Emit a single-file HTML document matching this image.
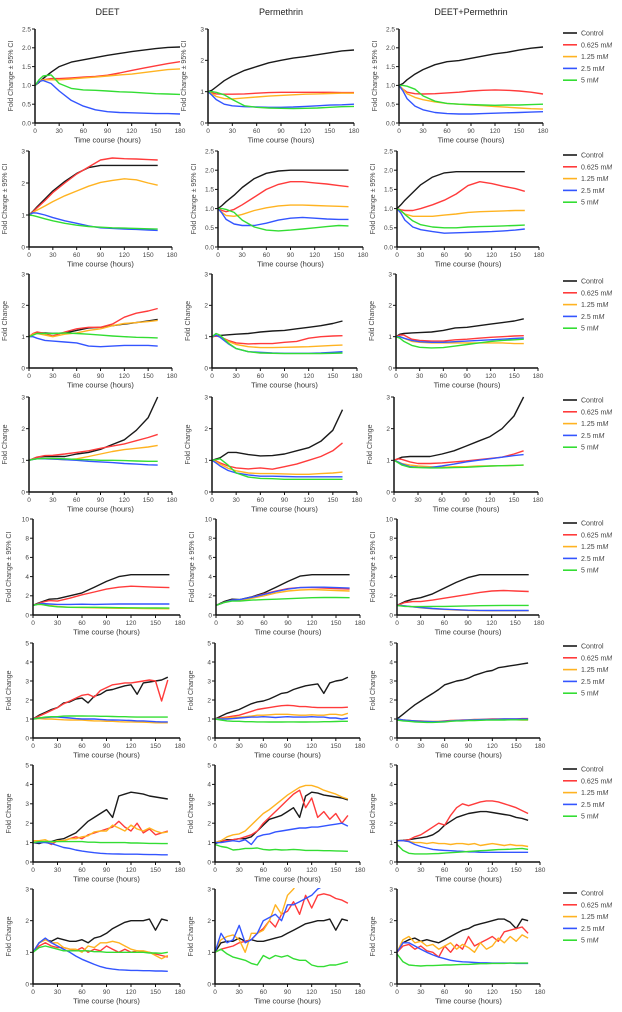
<!DOCTYPE html>
<html><head><meta charset="utf-8">
<style>
html,body{margin:0;padding:0;background:#fff;}
svg{display:block;font-family:"Liberation Sans",Arial,sans-serif;}
</style></head>
<body>
<svg id="fig" width="622" height="1012" viewBox="0 0 622 1012" xmlns="http://www.w3.org/2000/svg"></svg>
<script>
// ---------- shared data ----------
const seriesNames = ["Control","0.625 mM","1.25 mM","2.5 mM","5 mM"];
const columnTitles = ["DEET","Permethrin","DEET+Permethrin"];
const xTicks = [0,30,60,90,120,150,180];
const timesA = [0,5,10,20,30,45,60,75,90,105,120,135,150,165,180];
const timesB = [0,5,10,20,30,45,60,75,90,105,120,135,150,162];
const timesC = [0,5,10,20,30,45,60,75,90,105,120,135,150,167];
const timesD = [0,7.5,15,22.5,30,37.5,45,52.5,60,67.5,75,82.5,90,97.5,105,112.5,120,127.5,135,142.5,150,157.5,165];
const yMaxByRow = [[2.5,3,2.5],[3,2.5,2.5],[3,3,3],[3,3,3],[10,10,10],[5,5,5],[5,5,5],[3,3,3]];

// Row 1
const r1c1_control=[1.0,1.08,1.18,1.35,1.5,1.62,1.68,1.74,1.8,1.85,1.9,1.94,1.98,2.01,2.02];
const r1c1_d0625=[1.0,1.1,1.15,1.18,1.18,1.2,1.22,1.24,1.27,1.33,1.4,1.46,1.52,1.58,1.63];
const r1c1_d125=[1.0,1.1,1.15,1.15,1.15,1.17,1.2,1.22,1.25,1.28,1.3,1.34,1.38,1.42,1.44];
const r1c1_d25=[1.0,1.1,1.13,1.05,0.85,0.6,0.45,0.35,0.3,0.28,0.27,0.26,0.25,0.25,0.24];
const r1c1_d5=[1.0,1.15,1.25,1.28,1.05,0.92,0.88,0.87,0.85,0.83,0.82,0.8,0.78,0.77,0.76];
const r1c2_control=[1.0,1.05,1.15,1.35,1.5,1.68,1.8,1.92,2.0,2.07,2.12,2.18,2.24,2.3,2.33];
const r1c2_d0625=[1.0,0.96,0.93,0.92,0.92,0.93,0.95,0.97,0.98,0.98,0.98,0.98,0.98,0.97,0.97];
const r1c2_d125=[1.0,0.93,0.85,0.78,0.77,0.8,0.83,0.86,0.88,0.9,0.92,0.93,0.94,0.95,0.95];
const r1c2_d25=[1.0,0.88,0.75,0.6,0.55,0.52,0.51,0.5,0.5,0.51,0.53,0.55,0.57,0.58,0.6];
const r1c2_d5=[1.0,1.0,0.98,0.9,0.75,0.55,0.5,0.48,0.47,0.46,0.47,0.48,0.5,0.52,0.53];
const r1c3_control=[1.0,1.05,1.15,1.3,1.42,1.55,1.63,1.66,1.72,1.78,1.84,1.88,1.94,1.99,2.02];
const r1c3_d0625=[1.0,0.9,0.82,0.78,0.77,0.78,0.8,0.82,0.85,0.87,0.88,0.87,0.85,0.82,0.77];
const r1c3_d125=[1.0,0.9,0.78,0.68,0.62,0.56,0.52,0.5,0.48,0.46,0.44,0.42,0.4,0.38,0.37];
const r1c3_d25=[1.0,0.85,0.65,0.45,0.35,0.28,0.25,0.24,0.24,0.25,0.26,0.27,0.28,0.29,0.3];
const r1c3_d5=[1.0,1.0,0.98,0.9,0.72,0.58,0.52,0.5,0.49,0.48,0.47,0.48,0.48,0.49,0.5];
// Row 2
const r2c1_control=[1.0,1.12,1.25,1.5,1.75,2.05,2.3,2.48,2.55,2.55,2.55,2.55,2.55,2.55];
const r2c1_d0625=[1.0,1.1,1.22,1.45,1.7,2.0,2.28,2.5,2.72,2.78,2.76,2.75,2.73,2.72];
const r2c1_d125=[1.0,1.08,1.15,1.28,1.42,1.6,1.75,1.9,2.02,2.08,2.13,2.1,2.0,1.93];
const r2c1_d25=[1.0,1.07,1.06,1.0,0.92,0.82,0.74,0.66,0.6,0.58,0.56,0.55,0.53,0.52];
const r2c1_d5=[1.0,0.98,0.95,0.88,0.82,0.74,0.68,0.64,0.62,0.6,0.59,0.58,0.57,0.56];
const r2c2_control=[1.0,1.08,1.18,1.35,1.55,1.78,1.92,1.98,2.0,2.0,2.0,2.0,2.0,2.0];
const r2c2_d0625=[1.0,0.95,0.92,0.98,1.1,1.3,1.5,1.63,1.7,1.7,1.67,1.64,1.6,1.57];
const r2c2_d125=[1.0,0.9,0.82,0.8,0.85,0.95,1.02,1.07,1.09,1.09,1.08,1.07,1.06,1.05];
const r2c2_d25=[1.0,0.88,0.72,0.6,0.56,0.56,0.62,0.7,0.75,0.77,0.75,0.73,0.72,0.72];
const r2c2_d5=[1.0,1.0,0.98,0.9,0.7,0.52,0.44,0.42,0.44,0.47,0.5,0.53,0.56,0.55];
const r2c3_control=[1.0,1.1,1.22,1.42,1.62,1.82,1.93,1.96,1.96,1.96,1.96,1.96,1.96,1.96];
const r2c3_d0625=[1.0,0.97,0.95,0.95,1.0,1.1,1.22,1.38,1.6,1.7,1.65,1.58,1.52,1.45];
const r2c3_d125=[1.0,0.93,0.86,0.8,0.8,0.8,0.83,0.86,0.9,0.92,0.93,0.94,0.95,0.95];
const r2c3_d25=[1.0,0.88,0.7,0.52,0.45,0.4,0.36,0.37,0.38,0.39,0.4,0.42,0.44,0.47];
const r2c3_d5=[1.0,0.95,0.85,0.68,0.58,0.52,0.5,0.5,0.52,0.53,0.54,0.55,0.56,0.57];
// Row 3
const r3c1_control=[1.0,1.08,1.12,1.12,1.1,1.12,1.2,1.28,1.3,1.35,1.4,1.45,1.5,1.55];
const r3c1_d0625=[1.0,1.1,1.15,1.1,1.02,1.15,1.25,1.3,1.3,1.4,1.62,1.75,1.82,1.9];
const r3c1_d125=[1.0,1.08,1.1,1.05,1.0,1.08,1.12,1.2,1.25,1.35,1.42,1.45,1.48,1.52];
const r3c1_d25=[1.0,1.0,0.95,0.88,0.86,0.83,0.8,0.7,0.68,0.7,0.72,0.72,0.72,0.7];
const r3c1_d5=[1.0,1.05,1.1,1.1,1.1,1.12,1.1,1.08,1.05,1.02,1.0,0.98,0.97,0.96];
const r3c2_control=[1.0,1.02,1.04,1.06,1.08,1.1,1.15,1.18,1.2,1.25,1.3,1.35,1.42,1.5];
const r3c2_d0625=[1.0,1.02,1.0,0.88,0.8,0.77,0.78,0.78,0.82,0.85,0.95,1.0,1.02,1.03];
const r3c2_d125=[1.0,1.05,1.0,0.85,0.75,0.68,0.65,0.65,0.66,0.67,0.68,0.7,0.72,0.73];
const r3c2_d25=[1.0,1.05,0.98,0.78,0.62,0.52,0.5,0.48,0.47,0.47,0.47,0.48,0.5,0.52];
const r3c2_d5=[1.0,1.1,1.05,0.8,0.62,0.52,0.48,0.47,0.46,0.46,0.46,0.46,0.47,0.48];
const r3c3_control=[1.0,1.08,1.1,1.12,1.13,1.15,1.2,1.28,1.3,1.35,1.4,1.45,1.5,1.57];
const r3c3_d0625=[1.0,1.05,1.05,0.92,0.88,0.86,0.86,0.9,0.92,0.95,0.98,1.0,1.02,1.03];
const r3c3_d125=[1.0,1.0,0.95,0.85,0.82,0.8,0.8,0.8,0.8,0.8,0.8,0.8,0.78,0.78];
const r3c3_d25=[1.0,1.0,0.95,0.88,0.84,0.82,0.82,0.84,0.86,0.88,0.9,0.92,0.94,0.96];
const r3c3_d5=[1.0,0.95,0.85,0.72,0.66,0.64,0.65,0.7,0.75,0.8,0.85,0.88,0.9,0.92];
// Row 4
const r4c1_control=[1.0,1.05,1.1,1.12,1.12,1.12,1.2,1.25,1.35,1.5,1.65,1.95,2.35,3.0];
const r4c1_d0625=[1.0,1.05,1.1,1.15,1.16,1.2,1.25,1.3,1.38,1.45,1.52,1.62,1.72,1.82];
const r4c1_d125=[1.0,1.04,1.05,1.05,1.04,1.02,1.05,1.12,1.2,1.28,1.34,1.38,1.42,1.47];
const r4c1_d25=[1.0,1.03,1.05,1.05,1.04,1.02,1.0,0.97,0.95,0.93,0.9,0.88,0.86,0.85];
const r4c1_d5=[1.0,1.03,1.05,1.06,1.06,1.05,1.03,1.02,1.0,1.0,0.99,0.98,0.97,0.97];
const r4c2_control=[1.0,1.04,1.08,1.25,1.25,1.18,1.14,1.15,1.2,1.3,1.4,1.6,1.95,2.6];
const r4c2_d0625=[1.0,0.98,0.92,0.82,0.76,0.73,0.76,0.72,0.8,0.88,1.0,1.12,1.3,1.55];
const r4c2_d125=[1.0,0.95,0.88,0.75,0.67,0.6,0.58,0.58,0.57,0.56,0.56,0.58,0.6,0.63];
const r4c2_d25=[1.0,0.92,0.82,0.68,0.6,0.54,0.5,0.5,0.49,0.48,0.48,0.48,0.48,0.48];
const r4c2_d5=[1.0,1.02,1.05,0.85,0.6,0.47,0.43,0.42,0.4,0.4,0.4,0.4,0.4,0.4];
const r4c3_control=[1.0,1.05,1.1,1.12,1.12,1.12,1.2,1.3,1.45,1.6,1.75,2.0,2.4,3.0];
const r4c3_d0625=[1.0,1.05,1.03,0.95,0.9,0.9,0.92,0.95,0.98,1.02,1.06,1.1,1.2,1.3];
const r4c3_d125=[1.0,0.95,0.9,0.85,0.82,0.8,0.78,0.8,0.8,0.82,0.82,0.83,0.84,0.85];
const r4c3_d25=[1.0,0.95,0.88,0.8,0.78,0.77,0.82,0.88,0.95,1.0,1.05,1.1,1.15,1.18];
const r4c3_d5=[1.0,0.93,0.85,0.78,0.77,0.76,0.76,0.77,0.78,0.8,0.82,0.83,0.84,0.85];
// Row 5
const r5c1_control=[1.0,1.2,1.35,1.65,1.7,2.0,2.3,2.9,3.5,4.0,4.2,4.2,4.2,4.2];
const r5c1_d0625=[1.0,1.15,1.3,1.5,1.45,1.75,2.1,2.4,2.7,2.9,3.0,2.95,2.9,2.85];
const r5c1_d125=[1.0,1.1,1.1,1.0,0.9,0.8,0.78,0.75,0.72,0.7,0.7,0.68,0.66,0.65];
const r5c1_d25=[1.0,1.1,1.2,1.15,1.1,1.1,1.12,1.1,1.12,1.15,1.15,1.15,1.15,1.15];
const r5c1_d5=[1.0,1.1,1.1,0.95,0.85,0.8,0.8,0.8,0.78,0.76,0.75,0.74,0.73,0.72];
const r5c2_control=[1.0,1.2,1.4,1.65,1.6,1.9,2.3,2.9,3.5,4.05,4.2,4.2,4.2,4.2];
const r5c2_d0625=[1.0,1.15,1.3,1.55,1.55,1.85,2.2,2.5,2.75,2.85,2.85,2.8,2.75,2.7];
const r5c2_d125=[1.0,1.15,1.3,1.5,1.5,1.75,2.0,2.3,2.5,2.6,2.65,2.6,2.55,2.5];
const r5c2_d25=[1.0,1.15,1.3,1.55,1.6,1.85,2.15,2.45,2.7,2.85,2.9,2.9,2.85,2.8];
const r5c2_d5=[1.0,1.15,1.3,1.45,1.45,1.55,1.6,1.65,1.7,1.75,1.8,1.82,1.82,1.8];
const r5c3_control=[1.0,1.2,1.4,1.65,1.8,2.2,2.8,3.4,3.9,4.2,4.2,4.2,4.2,4.2];
const r5c3_d0625=[1.0,1.15,1.3,1.4,1.4,1.55,1.75,1.95,2.15,2.35,2.5,2.55,2.5,2.45];
const r5c3_d125=[1.0,1.0,0.95,0.85,0.75,0.65,0.58,0.52,0.48,0.45,0.44,0.44,0.44,0.44];
const r5c3_d25=[1.0,1.0,0.95,0.85,0.78,0.68,0.6,0.55,0.5,0.48,0.47,0.47,0.47,0.47];
const r5c3_d5=[1.0,0.95,0.9,0.88,0.88,0.9,0.9,0.92,0.95,0.97,0.98,1.0,1.0,1.0];
// Row 6
const r6c1_control=[1.0,1.2,1.35,1.5,1.6,1.85,1.9,2.05,2.1,1.85,2.2,2.3,2.5,2.55,2.65,2.75,2.8,2.3,2.9,2.95,3.0,3.05,3.2];
const r6c1_d0625=[1.0,1.15,1.3,1.45,1.6,1.8,1.95,2.1,2.25,2.3,2.15,2.5,2.65,2.8,2.85,2.9,2.9,2.95,3.0,3.05,3.0,1.95,3.05];
const r6c1_d125=[1.0,1.02,1.0,1.0,0.98,0.96,0.95,0.95,0.94,0.92,0.9,0.9,0.88,0.88,0.86,0.85,0.85,0.84,0.83,0.82,0.8,0.8,0.8];
const r6c1_d25=[1.0,1.05,1.08,1.1,1.1,1.08,1.05,1.02,1.0,1.0,1.0,0.98,0.96,0.95,0.94,0.93,0.92,0.9,0.9,0.88,0.86,0.85,0.85];
const r6c1_d5=[1.0,1.05,1.1,1.12,1.12,1.15,1.16,1.16,1.16,1.15,1.15,1.14,1.14,1.13,1.12,1.12,1.11,1.1,1.1,1.1,1.1,1.1,1.1];
const r6c2_control=[1.0,1.15,1.3,1.4,1.5,1.65,1.8,1.9,1.95,2.05,2.2,2.35,2.4,2.55,2.65,2.75,2.8,2.85,2.35,2.9,3.0,3.05,3.2];
const r6c2_d0625=[1.0,1.05,1.1,1.15,1.2,1.3,1.4,1.5,1.55,1.6,1.65,1.7,1.72,1.7,1.65,1.65,1.62,1.6,1.6,1.6,1.6,1.6,1.62];
const r6c2_d125=[1.0,1.02,1.05,1.08,1.1,1.12,1.15,1.2,1.2,1.22,1.25,1.25,1.25,1.22,1.2,1.2,1.22,1.2,1.2,1.25,1.25,1.2,1.3];
const r6c2_d25=[1.0,1.0,1.0,1.02,1.05,1.08,1.1,1.1,1.12,1.1,1.08,1.1,1.12,1.1,1.1,1.1,1.12,1.1,1.1,1.05,1.05,1.0,1.05];
const r6c2_d5=[1.0,0.95,0.9,0.88,0.88,0.86,0.86,0.85,0.85,0.84,0.84,0.84,0.85,0.85,0.84,0.84,0.85,0.85,0.86,0.86,0.87,0.88,0.88];
const r6c3_control=[1.0,1.25,1.5,1.75,1.95,2.15,2.35,2.55,2.8,2.9,3.0,3.05,3.15,3.3,3.4,3.5,3.55,3.7,3.75,3.8,3.85,3.9,3.95];
const r6c3_d0625=[1.0,0.95,0.92,0.9,0.9,0.88,0.87,0.88,0.9,0.92,0.93,0.95,0.96,0.98,0.98,0.99,1.0,1.0,1.0,1.0,1.0,1.02,1.02];
const r6c3_d125=[1.0,0.95,0.92,0.9,0.88,0.87,0.86,0.87,0.88,0.9,0.92,0.93,0.94,0.95,0.95,0.96,0.96,0.96,0.96,0.96,0.96,0.95,0.95];
const r6c3_d25=[1.0,0.95,0.92,0.9,0.88,0.87,0.86,0.86,0.88,0.9,0.92,0.93,0.95,0.96,0.97,0.98,0.98,0.99,1.0,1.0,1.0,1.0,1.0];
const r6c3_d5=[0.95,0.9,0.88,0.85,0.83,0.82,0.82,0.83,0.85,0.88,0.9,0.9,0.92,0.92,0.93,0.94,0.94,0.95,0.95,0.96,0.96,0.96,0.96];
// Row 7
const r7c1_control=[1.0,0.95,1.05,1.05,1.15,1.2,1.35,1.5,1.8,2.1,2.3,2.5,2.7,2.3,3.4,3.5,3.6,3.55,3.5,3.4,3.35,3.3,3.25];
const r7c1_d0625=[1.0,1.05,1.05,0.9,1.1,1.1,1.2,1.3,1.2,1.4,1.5,1.6,1.7,1.8,2.1,1.8,1.6,2.0,1.5,1.7,1.4,1.5,1.6];
const r7c1_d125=[1.1,1.1,1.15,1.0,1.1,1.1,1.2,1.2,1.3,1.35,1.55,1.6,1.6,1.9,1.75,1.6,1.9,1.7,1.6,1.75,1.6,1.5,1.55];
const r7c1_d25=[1.0,1.0,1.0,0.95,0.85,0.75,0.7,0.62,0.56,0.52,0.48,0.45,0.43,0.42,0.41,0.4,0.4,0.4,0.39,0.38,0.38,0.37,0.37];
const r7c1_d5=[1.0,1.05,1.05,1.05,1.05,1.05,1.05,1.05,1.05,1.02,1.02,1.0,1.0,1.0,1.0,1.0,0.98,0.98,0.97,0.96,0.96,0.95,0.95];
const r7c2_control=[0.95,1.05,1.15,1.15,1.2,1.2,1.3,1.6,1.9,2.2,2.3,2.4,2.6,2.8,2.3,3.4,3.6,3.55,3.45,3.4,3.35,3.3,3.2];
const r7c2_d0625=[1.0,1.1,1.1,1.15,1.2,1.3,1.4,1.6,2.0,2.3,2.6,2.9,3.2,3.5,3.7,2.8,3.3,2.3,2.6,2.2,2.5,2.0,2.4];
const r7c2_d125=[1.0,1.1,1.3,1.4,1.45,1.6,1.9,2.2,2.5,2.7,2.95,3.2,3.45,3.65,3.85,3.95,3.95,3.85,3.7,3.6,3.5,3.35,3.25];
const r7c2_d25=[1.0,1.0,1.05,1.1,1.05,1.15,0.9,1.3,1.4,1.45,1.55,1.6,1.65,1.7,1.75,1.75,1.8,1.8,1.85,1.9,1.95,2.0,1.85];
const r7c2_d5=[0.9,0.8,0.75,0.62,0.65,0.7,0.7,0.72,0.65,0.62,0.65,0.62,0.63,0.65,0.63,0.6,0.6,0.6,0.58,0.58,0.57,0.56,0.55];
const r7c3_control=[1.1,1.12,1.15,1.2,1.25,1.3,1.4,1.6,1.9,2.1,2.3,2.4,2.5,2.55,2.6,2.6,2.55,2.5,2.45,2.4,2.3,2.25,2.15];
const r7c3_d0625=[1.1,1.1,1.15,1.3,1.4,1.6,1.8,2.0,1.9,2.4,2.8,3.0,2.9,3.0,3.1,3.15,3.15,3.1,3.0,2.9,2.8,2.65,2.5];
const r7c3_d125=[1.1,1.1,1.05,1.0,1.0,0.95,1.0,0.95,0.95,0.9,0.95,0.95,0.9,0.95,0.85,0.9,0.95,0.9,0.85,0.9,0.85,0.85,0.8];
const r7c3_d25=[1.1,1.1,1.05,0.9,0.8,0.72,0.65,0.62,0.6,0.58,0.56,0.55,0.52,0.52,0.5,0.5,0.5,0.5,0.5,0.5,0.5,0.5,0.5];
const r7c3_d5=[0.9,0.6,0.45,0.42,0.42,0.42,0.43,0.44,0.46,0.48,0.5,0.52,0.54,0.56,0.58,0.6,0.62,0.64,0.65,0.66,0.68,0.7,0.65];
// Row 8
const r8c1_control=[1.0,1.3,1.4,1.35,1.45,1.4,1.35,1.35,1.4,1.3,1.45,1.5,1.6,1.75,1.85,1.95,2.0,2.0,2.0,2.05,1.7,2.05,2.0];
const r8c1_d0625=[1.0,1.2,1.3,1.2,1.15,1.15,1.1,1.05,1.15,1.0,1.1,1.05,1.2,1.1,1.0,1.1,1.0,1.05,1.0,1.0,0.95,0.9,0.85];
const r8c1_d125=[1.0,1.3,1.4,1.3,1.3,1.15,1.1,1.1,1.0,1.2,1.15,1.3,1.3,1.35,1.3,1.2,1.1,1.05,1.05,1.0,0.9,0.8,0.9];
const r8c1_d25=[1.0,1.3,1.45,1.3,1.2,1.1,1.0,0.88,0.78,0.7,0.62,0.55,0.5,0.47,0.45,0.44,0.43,0.43,0.42,0.42,0.41,0.41,0.4];
const r8c1_d5=[1.0,1.15,1.2,1.15,1.1,1.05,1.05,1.05,1.05,1.05,1.02,1.02,1.0,1.0,1.0,1.0,1.0,1.0,1.0,0.98,0.98,0.97,1.0];
const r8c2_control=[1.0,1.3,1.35,1.35,1.45,1.35,1.4,1.35,1.35,1.4,1.45,1.5,1.6,1.7,1.8,1.9,1.95,2.0,2.0,2.05,1.7,2.05,2.0];
const r8c2_d0625=[1.0,1.1,1.15,1.2,1.3,1.35,1.4,1.6,1.75,2.0,1.8,2.2,2.3,2.6,2.2,2.8,2.4,2.8,2.85,2.8,2.7,2.65,2.55];
const r8c2_d125=[1.1,1.4,1.5,1.55,1.4,1.0,1.6,1.6,1.7,2.0,2.5,2.2,2.8,3.0,3.3,3.5,3.6,3.7,3.8,3.9,4.0,4.0,4.0];
const r8c2_d25=[1.0,1.6,1.3,1.4,1.85,1.3,1.4,1.6,2.0,2.1,2.2,2.0,2.5,2.5,2.6,2.7,2.8,3.0,3.1,3.2,3.3,3.4,3.5];
const r8c2_d5=[1.0,1.1,0.95,0.85,0.8,0.75,0.65,0.6,0.9,0.8,0.9,0.85,0.9,0.8,0.75,0.75,0.6,0.55,0.55,0.6,0.6,0.65,0.7];
const r8c3_control=[1.0,1.3,1.4,1.45,1.35,1.4,1.35,1.3,1.4,1.5,1.6,1.7,1.75,1.85,1.9,1.95,2.0,2.05,2.05,1.95,1.75,2.05,2.0];
const r8c3_d0625=[1.0,1.2,1.25,1.1,1.2,1.05,1.0,0.85,1.2,1.0,1.25,1.1,1.5,1.2,1.3,1.4,1.5,1.35,1.65,1.7,1.75,1.8,1.6];
const r8c3_d125=[1.0,1.4,1.5,1.3,1.35,1.2,1.25,1.1,1.2,1.3,1.1,1.25,1.15,1.0,1.3,1.1,1.2,1.45,1.3,1.5,1.35,1.55,1.45];
const r8c3_d25=[1.0,1.3,1.3,1.2,1.1,1.0,0.92,0.85,0.8,0.75,0.72,0.7,0.69,0.68,0.67,0.67,0.66,0.66,0.66,0.66,0.65,0.65,0.65];
const r8c3_d5=[0.95,0.7,0.6,0.58,0.57,0.58,0.58,0.59,0.6,0.6,0.61,0.62,0.62,0.63,0.64,0.64,0.65,0.65,0.65,0.66,0.66,0.66,0.66];

// ---------- layout (pixel geometry) ----------
const rowTimes=[timesA,timesB,timesB,timesB,timesC,timesD,timesD,timesD];
const rowData=[
 [[r1c1_control,r1c1_d0625,r1c1_d125,r1c1_d25,r1c1_d5],[r1c2_control,r1c2_d0625,r1c2_d125,r1c2_d25,r1c2_d5],[r1c3_control,r1c3_d0625,r1c3_d125,r1c3_d25,r1c3_d5]],
 [[r2c1_control,r2c1_d0625,r2c1_d125,r2c1_d25,r2c1_d5],[r2c2_control,r2c2_d0625,r2c2_d125,r2c2_d25,r2c2_d5],[r2c3_control,r2c3_d0625,r2c3_d125,r2c3_d25,r2c3_d5]],
 [[r3c1_control,r3c1_d0625,r3c1_d125,r3c1_d25,r3c1_d5],[r3c2_control,r3c2_d0625,r3c2_d125,r3c2_d25,r3c2_d5],[r3c3_control,r3c3_d0625,r3c3_d125,r3c3_d25,r3c3_d5]],
 [[r4c1_control,r4c1_d0625,r4c1_d125,r4c1_d25,r4c1_d5],[r4c2_control,r4c2_d0625,r4c2_d125,r4c2_d25,r4c2_d5],[r4c3_control,r4c3_d0625,r4c3_d125,r4c3_d25,r4c3_d5]],
 [[r5c1_control,r5c1_d0625,r5c1_d125,r5c1_d25,r5c1_d5],[r5c2_control,r5c2_d0625,r5c2_d125,r5c2_d25,r5c2_d5],[r5c3_control,r5c3_d0625,r5c3_d125,r5c3_d25,r5c3_d5]],
 [[r6c1_control,r6c1_d0625,r6c1_d125,r6c1_d25,r6c1_d5],[r6c2_control,r6c2_d0625,r6c2_d125,r6c2_d25,r6c2_d5],[r6c3_control,r6c3_d0625,r6c3_d125,r6c3_d25,r6c3_d5]],
 [[r7c1_control,r7c1_d0625,r7c1_d125,r7c1_d25,r7c1_d5],[r7c2_control,r7c2_d0625,r7c2_d125,r7c2_d25,r7c2_d5],[r7c3_control,r7c3_d0625,r7c3_d125,r7c3_d25,r7c3_d5]],
 [[r8c1_control,r8c1_d0625,r8c1_d125,r8c1_d25,r8c1_d5],[r8c2_control,r8c2_d0625,r8c2_d125,r8c2_d25,r8c2_d5],[r8c3_control,r8c3_d0625,r8c3_d125,r8c3_d25,r8c3_d5]]
];
const rowY=[[29,123],[151,247],[274,368],[397,492],[519,615],[643,738],[765,862],[889,984]];
const rowX=[
 [[35,180],[208,354],[399,543]],
 [[29,172],[218,363],[397,539]],
 [[29,172],[212,357],[396,538]],
 [[29,172],[212,357],[394,538]],
 [[33,180],[216,360],[397,539]],
 [[33,180],[215,360],[397,540]],
 [[33,180],[215,360],[397,540]],
 [[33,180],[215,360],[397,540]]
];
const legendTop=[33,155,281,400,523,646,769,893];
const ciRows=[0,1,4];
const colors=["#1a1a1a","#ff3b3b","#ffb321","#3355ff","#33dd33"];

const NS="http://www.w3.org/2000/svg";
const svg=document.getElementById('fig');
function mk(tag,attrs,parent){const e=document.createElementNS(NS,tag);for(const k in attrs)e.setAttribute(k,attrs[k]);(parent||svg).appendChild(e);return e;}

for(let r=0;r<8;r++){
 const [yT,yB]=rowY[r];
 for(let c=0;c<3;c++){
  const [x0,x1]=rowX[r][c];
  const yMax=yMaxByRow[r][c];
  const xs=t=>x0+(t/180)*(x1-x0);
  const ys=v=>yB-(v/yMax)*(yB-yT);
  const g=mk('g',{});
  
  
  // clip
  const cid='clip'+r+'_'+c;
  const cp=mk('clipPath',{id:cid},g);
  mk('rect',{x:x0,y:yT-1,width:x1-x0+2,height:yB-yT+1},cp);
  // series
  const times=rowTimes[r];
  const sg=mk('g',{'clip-path':'url(#'+cid+')'},g);
  rowData[r][c].forEach((vals,si)=>{
   let d='';
   vals.forEach((v,i)=>{d+=(i?'L':'M')+xs(times[i]).toFixed(1)+','+ys(v).toFixed(1);});
   const p=mk('path',{d:d,fill:'none',stroke:colors[si],'stroke-width':1.4,'stroke-linejoin':'round'},sg);
   
   
  });
  // axes
  const ax=mk('g',{stroke:'#111','stroke-width':1.5,fill:'none'},g);
  
  
  mk('line',{x1:x0,y1:yT,x2:x0,y2:yB},ax);
  mk('line',{x1:x0,y1:yB,x2:x1,y2:yB},ax);
  // y ticks
  const step=yMax===2.5?0.5:(yMax===10?2:1);
  for(let v=0;v<=yMax+1e-9;v+=step){
   const y=ys(v);
   mk('line',{x1:x0-3,y1:y,x2:x0,y2:y,'stroke-width':1},ax);
   const t=mk('text',{x:x0-4,y:y+2.3,'font-size':6.5,'text-anchor':'end',fill:'#444'},g);
   t.textContent=yMax===2.5?v.toFixed(1):String(Math.round(v));
   
   
  }
  xTicks.forEach(tv=>{
   const x=xs(tv);
   mk('line',{x1:x,y1:yB,x2:x,y2:yB+3,'stroke-width':1},ax);
   const t=mk('text',{x:x,y:yB+10,'font-size':6.5,'text-anchor':'middle',fill:'#444'},g);
   t.textContent=String(tv);
   
   
  });
  const xt=mk('text',{x:(x0+x1)/2,y:yB+19.5,'font-size':7.5,'text-anchor':'middle',fill:'#333'},g);
  xt.textContent='Time course (hours)';
  
  
  const ym=(yT+yB)/2, yx=x0-22;
  const yt=mk('text',{x:yx,y:ym,'font-size':7,'text-anchor':'middle',fill:'#444',transform:'rotate(-90 '+yx+' '+ym+')'},g);
  yt.textContent=ciRows.includes(r)?'Fold Change ± 95% CI':'Fold Change';
  
  
  if(r===0){
   const ct=mk('text',{x:(x0+x1)/2,y:15,'font-size':9,'text-anchor':'middle',fill:'#222'},g);
   ct.textContent=columnTitles[c];
   
   
  }
 }
 // legend
 const lg=mk('g',{});
 
 
 seriesNames.forEach((n,si)=>{
  const y=legendTop[r]+si*11.8;
  const e=mk('g',{},lg);
  
  
  mk('line',{x1:563,y1:y,x2:577,y2:y,stroke:colors[si],'stroke-width':1.6},e);
  const t=mk('text',{x:581,y:y+2.5,'font-size':7,fill:'#444'},e);
  const parts=n.split(' mM');
  if(parts.length>1){t.textContent=parts[0]+' m';const ts=mk('tspan',{'font-style':'italic'},t);ts.textContent='M';}
  else t.textContent=n;
 });
}
</script>
</body></html>
